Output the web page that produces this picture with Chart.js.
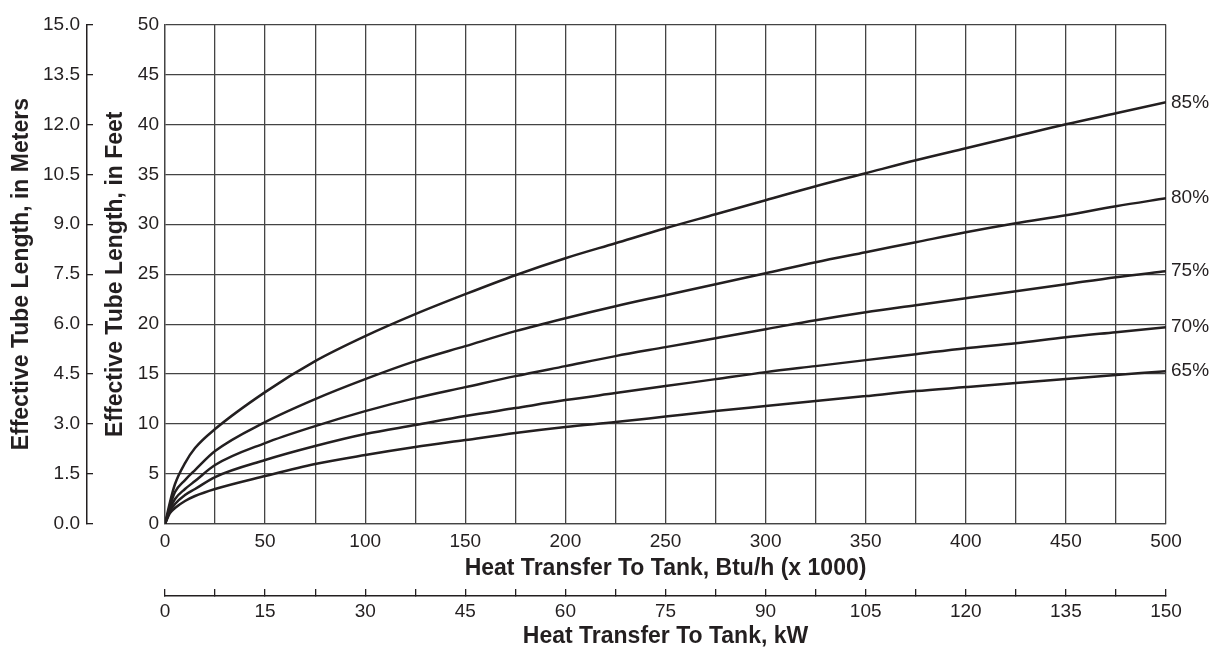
<!DOCTYPE html>
<html>
<head>
<meta charset="utf-8">
<script src="https://cdn.jsdelivr.net/npm/chart.js@4.4.1/dist/chart.umd.min.js"></script>
<style>
  body { margin: 0; background: #fff; }
  #wrap { width: 1220px; height: 650px; }
</style>
</head>
<body>
<div id="wrap"><canvas id="myChart" width="1220" height="650"></canvas></div>
<script>
// heat transfer, Btu/h x 1000
const heatBtu = [0, 2.5, 5, 10, 15, 25, 50, 75, 100, 125, 150, 175, 200, 225, 250, 275, 300, 325, 350, 375, 400, 425, 450, 475, 500];

// effective tube length in feet, per efficiency curve
const eff85 = [0, 2.2, 4.0, 6.1, 7.6, 9.5, 13.2, 16.3, 18.8, 21.0, 23.0, 24.9, 26.6, 28.1, 29.6, 31.0, 32.4, 33.8, 35.1, 36.4, 37.6, 38.8, 40.0, 41.1, 42.2];
const eff80 = [0, 1.8, 3.2, 4.4, 5.4, 7.3, 10.2, 12.5, 14.5, 16.3, 17.8, 19.3, 20.6, 21.8, 22.9, 24.0, 25.1, 26.2, 27.2, 28.2, 29.2, 30.1, 30.9, 31.8, 32.6];
const eff75 = [0, 1.5, 2.5, 3.5, 4.3, 5.9, 8.1, 9.8, 11.3, 12.6, 13.7, 14.8, 15.8, 16.8, 17.7, 18.6, 19.5, 20.4, 21.2, 21.9, 22.6, 23.3, 24.0, 24.7, 25.3];
const eff70 = [0, 1.3, 2.0, 2.9, 3.5, 4.7, 6.4, 7.8, 9.0, 9.9, 10.8, 11.6, 12.4, 13.1, 13.8, 14.5, 15.2, 15.8, 16.4, 17.0, 17.6, 18.1, 18.7, 19.2, 19.7];
const eff65 = [0, 1.1, 1.6, 2.3, 2.8, 3.5, 4.8, 6.0, 6.9, 7.7, 8.4, 9.1, 9.7, 10.2, 10.75, 11.3, 11.8, 12.3, 12.8, 13.3, 13.7, 14.1, 14.5, 14.9, 15.3];

const curveLabels = ["85%", "80%", "75%", "70%", "65%"];
const curveValues = [eff85, eff80, eff75, eff70, eff65];

const ink = "#231f20";
const gridInk = "#444444";
const tickFont = { family: "Liberation Sans, Arial, sans-serif", size: 19 };
const titleFont = { family: "Liberation Sans, Arial, sans-serif", size: 23, weight: "bold" };

const endLabels = {
  id: "endLabels",
  afterDatasetsDraw(chart) {
    const c = chart.ctx;
    c.save();
    c.font = "19px Liberation Sans, Arial, sans-serif";
    c.fillStyle = ink;
    c.textBaseline = "middle";
    c.textAlign = "left";
    chart.data.datasets.forEach((ds, i) => {
      const pts = chart.getDatasetMeta(i).data;
      const last = pts[pts.length - 1];
      c.fillText(ds.label, last.x + 5, last.y);
    });
    c.restore();
  },
};

const ctx = document.getElementById("myChart");

new Chart(ctx, {
  type: "line",
  data: {
    datasets: curveLabels.map((label, i) => ({
      label: label,
      data: heatBtu.map((x, j) => ({ x: x, y: curveValues[i][j] })),
      borderColor: ink,
      borderWidth: 2.5,
      pointRadius: 0,
      fill: false,
      cubicInterpolationMode: "monotone",
    })),
  },
  options: {
    responsive: false,
    animation: false,
    layout: { padding: { top: 22, right: 54, left: 0, bottom: 0 } },
    plugins: { legend: { display: false }, tooltip: { enabled: false } },
    scales: {
      x: {
        type: "linear",
        position: "bottom",
        weight: 0,
        min: 0,
        max: 500,
        ticks: {
          stepSize: 25,
          autoSkip: false,
          maxRotation: 0,
          padding: 6,
          color: ink,
          font: tickFont,
          callback: (v) => (v % 50 === 0 ? v : ""),
        },
        grid: { color: gridInk, lineWidth: 1.3, drawTicks: false },
        border: { color: gridInk, width: 1.3 },
        title: {
          display: true,
          text: "Heat Transfer To Tank, Btu/h (x 1000)",
          color: ink,
          font: titleFont,
          padding: { top: 0, bottom: 14 },
        },
        afterFit: (s) => { s.height = 72; },
      },
      x2: {
        type: "linear",
        position: "bottom",
        weight: 1,
        min: 0,
        max: 150,
        ticks: {
          stepSize: 7.5,
          autoSkip: false,
          maxRotation: 0,
          padding: 11,
          color: ink,
          font: tickFont,
          callback: (v) => (v % 15 === 0 ? v : ""),
        },
        grid: { drawOnChartArea: false, color: ink, lineWidth: 1.3, tickLength: -7 },
        border: { color: ink, width: 1.5 },
        title: {
          display: true,
          text: "Heat Transfer To Tank, kW",
          color: ink,
          font: titleFont,
          padding: { top: 0, bottom: 0 },
        },
        afterFit: (s) => { s.height = 54; },
      },
      y: {
        type: "linear",
        position: "left",
        weight: 0,
        min: 0,
        max: 50,
        ticks: { stepSize: 5, padding: 6, color: ink, font: tickFont },
        grid: { color: gridInk, lineWidth: 1.3, drawTicks: false },
        border: { color: gridInk, width: 1.3 },
        title: {
          display: true,
          text: "Effective Tube Length, in Feet",
          color: ink,
          font: titleFont,
          padding: { top: 15, bottom: 0 },
        },
        afterFit: (s) => { s.width = 78; },
      },
      y2: {
        type: "linear",
        position: "left",
        weight: 1,
        min: 0,
        max: 15,
        ticks: {
          stepSize: 1.5,
          padding: 13,
          color: ink,
          font: tickFont,
          callback: (v) => v.toFixed(1),
        },
        grid: { drawOnChartArea: false, color: ink, lineWidth: 1.3, tickLength: -6 },
        border: { color: ink, width: 1.5 },
        title: {
          display: true,
          text: "Effective Tube Length, in Meters",
          color: ink,
          font: titleFont,
          padding: { top: 8, bottom: 0 },
        },
        afterFit: (s) => { s.width = 87; },
      },
    },
  },
  plugins: [endLabels],
});
</script>
</body>
</html>
